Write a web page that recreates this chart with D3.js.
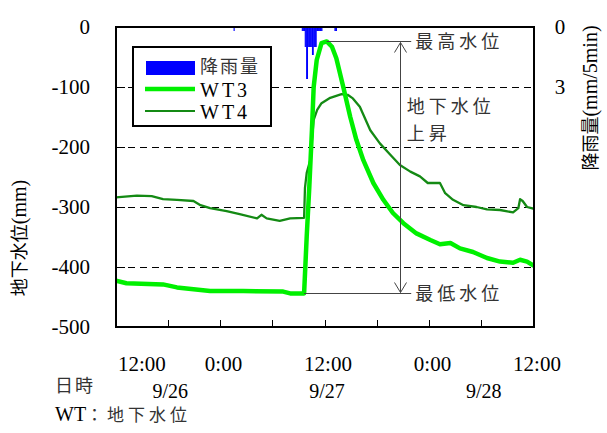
<!DOCTYPE html>
<html lang="ja">
<head>
<meta charset="utf-8">
<title>地下水位</title>
<style>
body { margin: 0; background: #fff; }
svg text { font-family: "Liberation Serif", "Times New Roman", serif; fill: #000; }
.jp { font-family: "Noto Sans CJK JP", sans-serif; fill: #333; }
.grid line { stroke: #000; stroke-dasharray: 7,5; stroke-width: 1; shape-rendering: crispEdges; }
.crisp { shape-rendering: crispEdges; }
</style>
</head>
<body>
<div id="chart"></div>
<script src="https://cdn.jsdelivr.net/npm/d3@7"></script>
<script>
// hours counted from the left edge of the chart (12:00)
var timeHours = [0, 12, 24, 36, 48];
var timeLabels = ['12:00', '0:00', '12:00', '0:00', '12:00'];
var dateHours = [6, 24, 42];
var dateLabels = ['9/26', '9/27', '9/28'];
var levelTicks = [0, -100, -200, -300, -400, -500];
var rainTicks = [0, 3];

var wt3Hour = [0, 1.2, 5.4, 7.0, 10.8, 14.6, 19.2, 20.0, 21.6, 21.9, 22.2, 22.5, 22.7, 23.05, 23.6, 24.2, 24.8, 25.3, 26.1, 26.9, 27.6, 28.4, 29.55, 30.7, 31.8, 33.0, 34.5, 36.1, 37.2, 38.4, 39.5, 41.0, 42.6, 44.1, 45.6, 46.4, 47.2, 48];
var wt3Level = [-423, -427, -429, -434, -440, -440, -441, -444, -444, -349, -266, -172, -100, -55, -27, -24, -33, -52, -100, -150, -188, -222, -260, -288, -310, -327, -344, -355, -362, -360, -369, -375, -385, -391, -393, -388, -391, -398];

var wt4Hour = [0, 2.4, 4.1, 5.4, 7.0, 8.9, 9.7, 10.8, 12.7, 14.2, 16.2, 16.7, 17.3, 18.8, 20.0, 21.6, 21.7, 21.9, 22.3, 22.5, 22.7, 23.1, 23.6, 24.6, 25.9, 26.6, 27.2, 28.0, 29.2, 30.3, 31.5, 32.6, 33.8, 34.9, 35.8, 36.8, 37.2, 37.8, 38.7, 39.9, 41.4, 42.6, 44.1, 45.6, 46.2, 46.4, 46.7, 47.2, 48];
var wt4Level = [-284, -281, -282, -287, -288, -290, -297, -302, -307, -312, -319, -313, -319, -323, -319, -318, -268, -243, -222, -188, -155, -138, -127, -118, -112, -113, -119, -133, -172, -194, -213, -230, -241, -249, -260, -260, -260, -277, -288, -297, -300, -304, -305, -309, -302, -287, -290, -300, -303];

// 5-minute rainfall
var rainHour = [13.5, 21.33, 21.42, 21.5, 21.58, 21.67, 21.75, 21.83, 21.92, 22.0, 22.08, 22.17, 22.25, 22.33, 22.42, 22.5, 22.58, 22.67, 22.75, 22.83, 22.92, 23.0, 23.08, 23.17, 23.25, 23.33, 23.42, 23.5, 23.58, 25.08, 25.17, 25.25];
var rainMm = [0.2, 0.2, 0.2, 0.2, 0.2, 1.0, 1.0, 2.6, 2.6, 1.0, 1.0, 1.0, 1.0, 1.0, 1.0, 1.4, 1.4, 1.0, 1.0, 1.0, 1.0, 0.2, 0.2, 0.2, 0.2, 0.2, 0.2, 0.2, 0.2, 0.2, 0.2, 0.2];

var width = 607, height = 433;
var margin = {top: 27, right: 73, bottom: 106, left: 116};

var svg = d3.select('#chart').append('svg')
    .attr('width', width)
    .attr('height', height);

var x = d3.scaleLinear().domain([0, 48]).range([margin.left, width - margin.right]);
var y = d3.scaleLinear().domain([-500, 0]).range([height - margin.bottom, margin.top]);
var yRain = d3.scaleLinear().domain([0, 3]).range([margin.top, y(-100)]);

svg.append('clipPath').attr('id', 'clip')
  .append('rect')
    .attr('x', x(0)).attr('y', y(0))
    .attr('width', x(48) - x(0)).attr('height', y(-500) - y(0));

// dashed grid
svg.append('g').attr('class', 'grid')
  .selectAll('line')
  .data(levelTicks.slice(1, -1))
  .enter().append('line')
    .attr('x1', x(0)).attr('x2', x(48))
    .attr('y1', function(d) { return y(d) + 0.5; })
    .attr('y2', function(d) { return y(d) + 0.5; });

// inner ticks
svg.append('g').attr('class', 'crisp').selectAll('line')
  .data(levelTicks)
  .enter().append('line')
    .attr('x1', x(0)).attr('x2', x(0) + 9)
    .attr('y1', function(d) { return y(d) + 0.5; })
    .attr('y2', function(d) { return y(d) + 0.5; })
    .attr('stroke', '#000');

svg.append('g').attr('class', 'crisp').selectAll('line')
  .data(d3.range(0, 49, 6))
  .enter().append('line')
    .attr('x1', function(d) { return x(d); })
    .attr('x2', function(d) { return x(d); })
    .attr('y1', y(-500)).attr('y2', y(-500) - 7)
    .attr('stroke', '#000');

// rainfall bars hanging from the top
var barW = x(1 / 12) - x(0) + 0.4;
svg.append('g').attr('clip-path', 'url(#clip)')
  .selectAll('rect')
  .data(rainHour)
  .enter().append('rect')
    .attr('x', function(d) { return x(d); })
    .attr('y', yRain(0))
    .attr('width', barW)
    .attr('height', function(d, i) { return yRain(rainMm[i]) - yRain(0); })
    .attr('fill', '#0000ff');

var line = d3.line()
    .x(function(d) { return x(d[0]); })
    .y(function(d) { return y(d[1]); });

var wt3 = d3.zip(wt3Hour, wt3Level);
var wt4 = d3.zip(wt4Hour, wt4Level);

var lines = svg.append('g').attr('clip-path', 'url(#clip)');
lines.append('path')
    .attr('d', line(wt4))
    .attr('fill', 'none')
    .attr('stroke', '#148a14')
    .attr('stroke-width', 2.3)
    .attr('stroke-linejoin', 'round');
lines.append('path')
    .attr('d', line(wt3))
    .attr('fill', 'none')
    .attr('stroke', '#00f000')
    .attr('stroke-width', 4.5)
    .attr('stroke-linejoin', 'round');

// annotation: max / min water level and the rise
var maxLevel = d3.max(wt3Level), minLevel = d3.min(wt3Level);
var peakHour = wt3Hour[wt3Level.indexOf(maxLevel)];
var riseHour = 21.6, arrowHour = 32.6, lineEnd = 33.9, textHour = 33.4;
var ax = Math.round(x(arrowHour)) + 0.5;
var yHi = Math.round(y(maxLevel)) + 0.5, yLo = Math.round(y(minLevel)) + 0.5;
var ann = svg.append('g');
ann.append('line')
    .attr('x1', x(peakHour)).attr('x2', x(lineEnd))
    .attr('y1', yHi).attr('y2', yHi)
    .attr('stroke', '#444');
ann.append('line')
    .attr('x1', x(riseHour)).attr('x2', x(lineEnd))
    .attr('y1', yLo).attr('y2', yLo)
    .attr('stroke', '#444');
ann.append('line')
    .attr('x1', ax).attr('x2', ax)
    .attr('y1', yHi + 1).attr('y2', yLo - 1)
    .attr('stroke', '#444');
ann.append('path')
    .attr('d', 'M' + (ax - 6) + ',' + (yHi + 11) + 'L' + ax + ',' + (yHi + 1) + 'L' + (ax + 6) + ',' + (yHi + 11))
    .attr('fill', 'none').attr('stroke', '#444');
ann.append('path')
    .attr('d', 'M' + (ax - 6) + ',' + (yLo - 11) + 'L' + ax + ',' + (yLo - 1) + 'L' + (ax + 6) + ',' + (yLo - 11))
    .attr('fill', 'none').attr('stroke', '#444');

ann.append('text').attr('class', 'jp')
    .attr('x', x(lineEnd) + 4).attr('y', y(maxLevel)).attr('dy', '0.36em')
    .style('font-size', '18px').style('letter-spacing', '4px')
    .text('最高水位');
ann.append('text').attr('class', 'jp')
    .attr('x', x(lineEnd) + 4).attr('y', y(minLevel)).attr('dy', '0.36em')
    .style('font-size', '18px').style('letter-spacing', '4px')
    .text('最低水位');
ann.append('text').attr('class', 'jp')
    .attr('x', x(textHour)).attr('y', y(-133)).attr('dy', '0.36em')
    .style('font-size', '18px').style('letter-spacing', '4px')
    .text('地下水位');
ann.append('text').attr('class', 'jp')
    .attr('x', x(textHour)).attr('y', y(-177)).attr('dy', '0.36em')
    .style('font-size', '18px').style('letter-spacing', '4px')
    .text('上昇');

// frame
svg.append('rect')
    .attr('x', x(0)).attr('y', y(0))
    .attr('width', x(48) - x(0)).attr('height', y(-500) - y(0))
    .attr('fill', 'none').attr('stroke', '#000').attr('stroke-width', 2);

// left axis labels
svg.append('g').selectAll('text')
  .data(levelTicks)
  .enter().append('text')
    .attr('x', x(0) - 26).attr('y', function(d) { return y(d); })
    .attr('dy', '0.35em').attr('text-anchor', 'end')
    .style('font-size', '21px')
    .text(function(d) { return d; });

// right axis labels
svg.append('g').selectAll('text')
  .data(rainTicks)
  .enter().append('text')
    .attr('x', x(48) + 26).attr('y', function(d) { return yRain(d); })
    .attr('dy', '0.35em').attr('text-anchor', 'middle')
    .style('font-size', '21px')
    .text(function(d) { return d; });

// bottom labels
svg.append('g').selectAll('text')
  .data(timeHours)
  .enter().append('text')
    .attr('x', function(d, i) { return i === 0 ? x(d) + 2 : x(d) + 3; })
    .attr('y', 371)
    .attr('text-anchor', function(d, i) { return i === 0 ? 'start' : 'middle'; })
    .style('font-size', '21px')
    .text(function(d, i) { return timeLabels[i]; });

svg.append('g').selectAll('text')
  .data(dateHours)
  .enter().append('text')
    .attr('x', function(d) { return x(d) + 2; })
    .attr('y', 398)
    .attr('text-anchor', 'middle')
    .style('font-size', '20px')
    .text(function(d, i) { return dateLabels[i]; });

svg.append('text').attr('class', 'jp')
    .attr('x', 55).attr('y', 392)
    .style('font-size', '18px').style('letter-spacing', '2px')
    .text('日時');

var note = svg.append('text').attr('x', 55).attr('y', 421).style('font-size', '20px');
note.append('tspan').text('WT');
note.append('tspan').attr('class', 'jp').style('font-size', '17px').style('letter-spacing', '4px').text('：地下水位');

// axis titles
var lt = svg.append('text')
    .attr('transform', 'translate(26,238) rotate(-90)')
    .attr('text-anchor', 'middle')
    .style('font-size', '20px');
lt.append('tspan').attr('class', 'jp').style('font-size', '18px').style('fill', '#000').text('地下水位');
lt.append('tspan').text('(mm)');

var rt = svg.append('text')
    .attr('transform', 'translate(597,98) rotate(-90)')
    .attr('text-anchor', 'middle')
    .style('font-size', '20px');
rt.append('tspan').attr('class', 'jp').style('font-size', '18px').style('fill', '#000').text('降雨量');
rt.append('tspan').text('(mm/5min)');

// legend
var legend = svg.append('g');
legend.append('rect')
    .attr('x', 133).attr('y', 47).attr('width', 138).attr('height', 79)
    .attr('fill', '#fff').attr('stroke', '#000').attr('stroke-width', 2);
legend.append('rect')
    .attr('x', 146).attr('y', 61).attr('width', 49).attr('height', 14)
    .attr('fill', '#0000ff');
legend.append('line')
    .attr('x1', 145).attr('x2', 195).attr('y1', 89).attr('y2', 89)
    .attr('stroke', '#00f000').attr('stroke-width', 4.5);
legend.append('line')
    .attr('x1', 145).attr('x2', 195).attr('y1', 111).attr('y2', 111)
    .attr('stroke', '#148a14').attr('stroke-width', 2);
legend.append('text').attr('class', 'jp')
    .attr('x', 200).attr('y', 67).attr('dy', '0.36em')
    .style('font-size', '18px').style('letter-spacing', '2px')
    .text('降雨量');
legend.append('text')
    .attr('x', 200).attr('y', 90).attr('dy', '0.35em')
    .style('font-size', '20px').style('letter-spacing', '3px')
    .text('WT3');
legend.append('text')
    .attr('x', 200).attr('y', 112).attr('dy', '0.35em')
    .style('font-size', '20px').style('letter-spacing', '3px')
    .text('WT4');
</script>
</body>
</html>
